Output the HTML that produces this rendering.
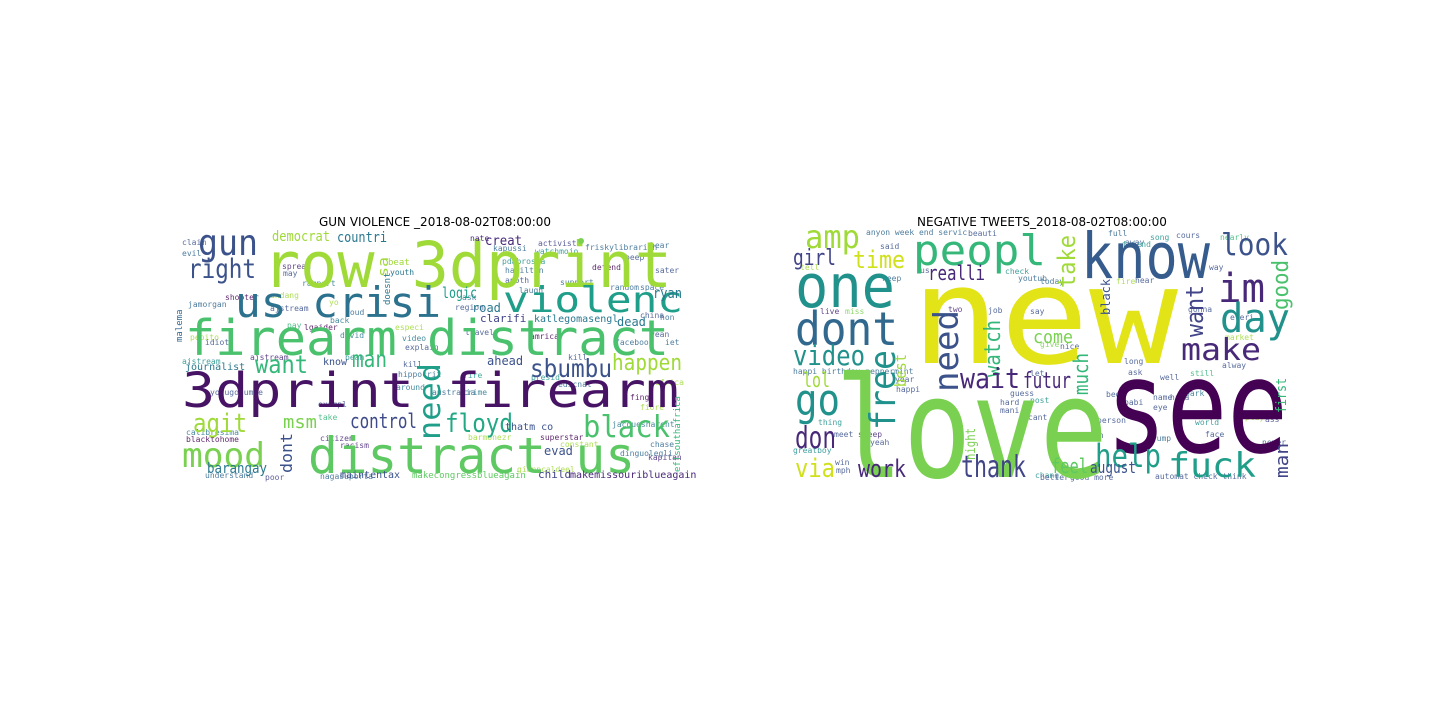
<!DOCTYPE html>
<html><head><meta charset="utf-8"><style>
body{margin:0;background:#fff;width:1440px;height:720px;overflow:hidden}
svg{display:block}
text{font-family:"DejaVu Sans Mono","Liberation Mono",monospace}
.t{font-family:"DejaVu Sans","Liberation Sans",sans-serif;font-size:12px;fill:#000}
</style></head><body>
<svg width="1440" height="720" viewBox="0 0 1440 720">
<text class="t" x="435" y="226" text-anchor="middle">GUN VIOLENCE _2018-08-02T08:00:00</text>
<text class="t" x="1042" y="226" text-anchor="middle">NEGATIVE TWEETS_2018-08-02T08:00:00</text>

<g>
<g font-size="8" opacity="0.85">
<text x="182" y="245" fill="#3b528b">claim</text><text x="182" y="256" fill="#31688e">evil</text><text x="225" y="300" fill="#440154">shooter</text>
<text x="188" y="307" fill="#31688e">jamorgan</text><text x="190" y="340" fill="#a0da39">pepito</text><text x="182" y="364" fill="#21918c">ajstream</text>
<text x="205" y="345" fill="#3b528b">idiot</text><text x="186" y="435" fill="#2a788e">calibresima</text><text x="186" y="442" fill="#440154">blacktohome</text>
<text x="205" y="478" fill="#31688e">understand</text><text x="265" y="480" fill="#414487">poor</text><text x="320" y="479" fill="#31688e">nagasuporta</text>
<text x="270" y="311" fill="#3b528b">ajstream</text><text x="270" y="298" fill="#a0da39">andang</text><text x="282" y="269" fill="#482878">spread</text>
<text x="283" y="276" fill="#3b528b">may</text><text x="302" y="286" fill="#2a788e">ramport</text><text x="287" y="328" fill="#35b779">pay</text>
<text x="304" y="330" fill="#440154">lgaider</text><text x="329" y="305" fill="#a0da39">yo</text><text x="330" y="323" fill="#2a788e">back</text>
<text x="340" y="338" fill="#2a788e">david</text><text x="345" y="315" fill="#31688e">loud</text><text x="395" y="330" fill="#a0da39">especi</text>
<text x="402" y="341" fill="#2a788e">video</text><text x="405" y="350" fill="#3b528b">explain</text><text x="403" y="367" fill="#3b528b">kill</text>
<text x="318" y="407" fill="#3b528b">exampl</text><text x="318" y="420" fill="#35b779">take</text><text x="320" y="441" fill="#482878">citizen</text>
<text x="340" y="448" fill="#482878">racism</text><text x="398" y="377" fill="#31688e">hippocrit</text><text x="396" y="390" fill="#2a788e">around</text>
<text x="432" y="395" fill="#31688e">australia</text><text x="463" y="395" fill="#2a788e">crime</text><text x="463" y="378" fill="#1f9e89">fire</text>
<text x="465" y="335" fill="#3b528b">travel</text><text x="468" y="440" fill="#a0da39">barmonezr</text><text x="540" y="440" fill="#440154">superstar</text>
<text x="560" y="447" fill="#a0da39">constant</text><text x="517" y="472" fill="#a0da39">gianncaldeel</text><text x="455" y="310" fill="#3b528b">region</text>
<text x="462" y="300" fill="#31688e">ask</text><text x="493" y="251" fill="#31688e">kapussi</text><text x="502" y="264" fill="#21918c">pdabrosca</text>
<text x="505" y="273" fill="#31688e">hamilton</text><text x="505" y="283" fill="#3b528b">anoth</text><text x="519" y="293" fill="#31688e">laugh</text>
<text x="530" y="339" fill="#440154">amrica</text><text x="531" y="380" fill="#21918c">presid</text><text x="558" y="387" fill="#31688e">edicnat</text>
<text x="568" y="360" fill="#3b528b">kill</text><text x="538" y="246" fill="#414487">activist</text><text x="535" y="254" fill="#21918c">watchmojo</text>
<text x="585" y="250" fill="#31688e">friskylibrarian</text><text x="625" y="260" fill="#3b528b">beep</text><text x="650" y="248" fill="#31688e">bear</text>
<text x="655" y="273" fill="#3b528b">sater</text><text x="640" y="290" fill="#31688e">space</text><text x="640" y="318" fill="#3b528b">china</text>
<text x="660" y="320" fill="#31688e">hon</text><text x="660" y="320" fill="#31688e"></text><text x="650" y="337" fill="#3b528b">yean</text>
<text x="665" y="345" fill="#31688e">iet</text><text x="615" y="345" fill="#31688e">facebook</text><text x="655" y="385" fill="#a0da39">africa</text>
<text x="640" y="410" fill="#a0da39">fiore</text><text x="630" y="400" fill="#440154">fing</text><text x="650" y="447" fill="#31688e">chase</text>
<text x="648" y="460" fill="#482878">kapitan</text><text x="612" y="427" fill="#2a788e">jacquesnarent</text><text x="620" y="456" fill="#31688e">dinguolegli</text>
<text x="592" y="270" fill="#440154">defend</text><text x="560" y="285" fill="#31688e">support</text><text x="610" y="290" fill="#31688e">random</text>
<text x="345" y="360" fill="#21918c">bean</text><text x="250" y="360" fill="#482878">ajstream</text><text x="210" y="395" fill="#3b528b">yo ugo umue</text>
</g>
<text x="263" y="287" font-size="63" fill="#a0da39" textLength="409" lengthAdjust="spacingAndGlyphs">row 3dprint</text>
<text x="235" y="317" font-size="42" fill="#2c728e" textLength="206" lengthAdjust="spacingAndGlyphs">us crisi</text>
<text x="503" y="312" font-size="36" fill="#1f9e89" textLength="180" lengthAdjust="spacingAndGlyphs">violenc</text>
<text x="185" y="355" font-size="49" fill="#4ac16d" textLength="484" lengthAdjust="spacingAndGlyphs">firearm distract</text>
<text x="182" y="407" font-size="48" fill="#471365" textLength="497" lengthAdjust="spacingAndGlyphs">3dprint firearm</text>
<text x="308" y="473" font-size="50" fill="#5ec962" textLength="327" lengthAdjust="spacingAndGlyphs">distract us</text>
<text x="198" y="255" font-size="36" fill="#3b528b" textLength="60" lengthAdjust="spacingAndGlyphs">gun</text>
<text x="188" y="278" font-size="27" fill="#3b528b" textLength="68" lengthAdjust="spacingAndGlyphs">right</text>
<text x="182" y="467" font-size="34" fill="#7ad151" textLength="83" lengthAdjust="spacingAndGlyphs">mood</text>
<text x="193" y="432" font-size="26" fill="#a0da39" textLength="54" lengthAdjust="spacingAndGlyphs">agit</text>
<text x="255" y="373" font-size="25" fill="#35b779" textLength="53" lengthAdjust="spacingAndGlyphs">want</text>
<text x="352" y="367" font-size="23" fill="#35b779" textLength="35" lengthAdjust="spacingAndGlyphs">man</text>
<text transform="translate(440,440) rotate(-90)" font-size="30" fill="#1f9e89" textLength="77" lengthAdjust="spacingAndGlyphs">need</text>
<text x="530" y="377" font-size="25" fill="#3b528b" textLength="82" lengthAdjust="spacingAndGlyphs">sbumbu</text>
<text x="612" y="370" font-size="22" fill="#a0da39" textLength="70" lengthAdjust="spacingAndGlyphs">happen</text>
<text x="445" y="432" font-size="26" fill="#22a884" textLength="68" lengthAdjust="spacingAndGlyphs">floyd</text>
<text x="583" y="437" font-size="30" fill="#4ac16d" textLength="87" lengthAdjust="spacingAndGlyphs">black</text>
<text x="350" y="428" font-size="20" fill="#3e4a89" textLength="67" lengthAdjust="spacingAndGlyphs">control</text>
<text x="283" y="428" font-size="18" fill="#7ad151" textLength="34" lengthAdjust="spacingAndGlyphs">msm</text>
<text transform="translate(292,473) rotate(-90)" font-size="16" fill="#3b528b" textLength="40" lengthAdjust="spacingAndGlyphs">dont</text>
<text transform="translate(388,277) rotate(-90)" font-size="14" fill="#a0da39" textLength="20" lengthAdjust="spacingAndGlyphs">sa</text>
<text transform="translate(390,305) rotate(-90)" font-size="9" fill="#2a788e">doesnt</text>
<text x="207" y="473" font-size="14" fill="#2a788e" textLength="60" lengthAdjust="spacingAndGlyphs">barangay</text>
<text x="272" y="241" font-size="14" fill="#a0da39" textLength="58" lengthAdjust="spacingAndGlyphs">democrat</text>
<text x="337" y="242" font-size="14" fill="#2a788e" textLength="50" lengthAdjust="spacingAndGlyphs">countri</text>
<text x="485" y="245" font-size="13" fill="#482878" textLength="37" lengthAdjust="spacingAndGlyphs">creat</text>
<text x="442" y="298" font-size="15" fill="#1f9e89" textLength="35" lengthAdjust="spacingAndGlyphs">logic</text>
<text x="653" y="298" font-size="14" fill="#2a788e" textLength="29" lengthAdjust="spacingAndGlyphs">ryan</text>
<text x="472" y="312" font-size="12" fill="#2a788e">road</text>
<text x="480" y="322" font-size="11" fill="#414487">clarifi</text>
<text x="534" y="322" font-size="10" fill="#2a788e">katlegomasengl</text>
<text x="617" y="326" font-size="12" fill="#2a788e">dead</text>
<text x="185" y="370" font-size="10" fill="#2a788e">journalist</text>
<text x="487" y="365" font-size="12" fill="#3b528b">ahead</text>
<text x="544" y="455" font-size="12" fill="#3b528b">evad</text>
<text x="538" y="478" font-size="11" fill="#414487">child</text>
<text x="570" y="478" font-size="10" fill="#482878">makemissouriblueagain</text>
<text x="412" y="478" font-size="9" fill="#5ec962">makecongressblueagain</text>
<text x="382" y="478" font-size="10" fill="#3b528b">tax</text>
<text x="340" y="478" font-size="10" fill="#3b528b">mainten</text>
<text x="323" y="365" font-size="10" fill="#3b528b">know</text>
<text x="505" y="430" font-size="10" fill="#3b528b">thatm co</text>
<text x="388" y="265" font-size="9" fill="#a0da39">beat</text>
<text x="390" y="275" font-size="8" fill="#2a788e">youth</text>
<text x="470" y="241" font-size="8" fill="#482878">nate</text>
<circle cx="581" cy="241" r="3" fill="#7ad151"/>
<text transform="translate(680,472) rotate(-90)" font-size="9" fill="#35b779">effsouthafrica</text>
<text transform="translate(182,342) rotate(-90)" font-size="9" fill="#31688e">malema</text>
</g>

<g>
<g font-size="8" opacity="0.85">
<text x="866" y="235" fill="#31688e">anyon week end servic</text><text x="968" y="236" fill="#3b528b">beauti</text><text x="1108" y="236" fill="#31688e">full</text>
<text x="1125" y="245" fill="#3b528b">away</text><text x="1150" y="240" fill="#21918c">song</text><text x="1220" y="240" fill="#35b779">nearly</text>
<text x="882" y="281" fill="#31688e">keep</text><text x="1018" y="281" fill="#31688e">youtub</text><text x="1040" y="284" fill="#31688e">today</text>
<text x="1116" y="284" fill="#a0da39">fire</text><text x="1135" y="283" fill="#3b528b">hear</text><text x="988" y="313" fill="#3b528b">job</text>
<text x="948" y="312" fill="#482878">two</text><text x="820" y="314" fill="#482878">live</text><text x="845" y="314" fill="#7ad151">miss</text>
<text x="1030" y="314" fill="#3b528b">say</text><text x="1040" y="347" fill="#7ad151">give</text><text x="1060" y="349" fill="#3b528b">nice</text>
<text x="1124" y="364" fill="#3b528b">long</text><text x="1128" y="375" fill="#3b528b">ask</text><text x="1160" y="380" fill="#3b528b">well</text>
<text x="1190" y="376" fill="#35b779">still</text><text x="1185" y="396" fill="#2a788e">park</text><text x="1106" y="397" fill="#3b528b">bed</text>
<text x="1124" y="405" fill="#3b528b">babi</text><text x="1153" y="400" fill="#3b528b">name</text><text x="1170" y="400" fill="#3b528b">haha</text>
<text x="1153" y="410" fill="#3b528b">eye</text><text x="1097" y="423" fill="#3b528b">person</text><text x="1195" y="425" fill="#21918c">world</text>
<text x="1245" y="420" fill="#a0da39">play</text><text x="1265" y="422" fill="#414487">ass</text><text x="1205" y="437" fill="#3b528b">face</text>
<text x="1262" y="445" fill="#3b528b">never</text><text x="1065" y="438" fill="#3b528b">hey teen</text><text x="1147" y="441" fill="#31688e">trump</text>
<text x="1000" y="405" fill="#3b528b">hard</text><text x="1000" y="413" fill="#3b528b">mani</text><text x="1010" y="396" fill="#3b528b">guess</text>
<text x="1030" y="403" fill="#21918c">post</text><text x="1028" y="420" fill="#3b528b">cant</text><text x="818" y="425" fill="#21918c">thing</text>
<text x="834" y="437" fill="#3b528b">meet</text><text x="858" y="437" fill="#482878">sleep</text><text x="870" y="445" fill="#3b528b">yeah</text>
<text x="793" y="453" fill="#21918c">greatboy</text><text x="835" y="465" fill="#3b528b">win</text><text x="836" y="473" fill="#3b528b">mph</text>
<text x="895" y="382" fill="#3b528b">year</text><text x="896" y="392" fill="#3b528b">happi</text><text x="1030" y="376" fill="#3b528b">let</text>
<text x="1155" y="479" fill="#3b528b">automat check think</text><text x="1035" y="478" fill="#21918c">chang</text><text x="1025" y="479" fill="#3b528b"></text>
<text x="1040" y="480" fill="#3b528b">better</text><text x="1070" y="480" fill="#3b528b">good more</text><text x="920" y="273" fill="#3b528b">us</text>
<text x="1005" y="274" fill="#21918c">check</text><text x="880" y="249" fill="#3b528b">said</text><text x="800" y="270" fill="#a0da39">tell</text>
<text x="1209" y="270" fill="#3b528b">way</text><text x="1122" y="247" fill="#21918c">friend</text><text x="1176" y="238" fill="#3b528b">cours</text>
<text x="1230" y="320" fill="#3b528b">everi</text><text x="1225" y="340" fill="#a0da39">market</text><text x="1222" y="368" fill="#3b528b">alway</text>
<text x="793" y="374" fill="#31688e">happi birthday peppermint</text><text x="1188" y="312" fill="#3b528b">gonna</text>
</g>
<text x="911" y="363" font-size="135" fill="#e2e418" textLength="267" lengthAdjust="spacingAndGlyphs">new</text>
<text x="835" y="477" font-size="140" fill="#7ad151" textLength="273" lengthAdjust="spacingAndGlyphs">love</text>
<text x="1106" y="452" font-size="130" fill="#440154" textLength="182" lengthAdjust="spacingAndGlyphs">see</text>
<text x="1081" y="278" font-size="63" fill="#365c8d" textLength="129" lengthAdjust="spacingAndGlyphs">know</text>
<text x="795" y="307" font-size="60" fill="#21918c" textLength="100" lengthAdjust="spacingAndGlyphs">one</text>
<text x="795" y="345" font-size="46" fill="#31688e" textLength="103" lengthAdjust="spacingAndGlyphs">dont</text>
<text x="913" y="265" font-size="42" fill="#35b779" textLength="133" lengthAdjust="spacingAndGlyphs">peopl</text>
<text x="805" y="248" font-size="32" fill="#a0da39" textLength="55" lengthAdjust="spacingAndGlyphs">amp</text>
<text x="853" y="268" font-size="24" fill="#d0e11c" textLength="52" lengthAdjust="spacingAndGlyphs">time</text>
<text x="793" y="265" font-size="22" fill="#414487" textLength="43" lengthAdjust="spacingAndGlyphs">girl</text>
<text transform="translate(1075,288) rotate(-90)" font-size="24" fill="#a0da39" textLength="53" lengthAdjust="spacingAndGlyphs">take</text>
<text x="1221" y="255" font-size="30" fill="#3b528b" textLength="67" lengthAdjust="spacingAndGlyphs">look</text>
<text x="1218" y="302" font-size="40" fill="#482878" textLength="47" lengthAdjust="spacingAndGlyphs">im</text>
<text transform="translate(1288,310) rotate(-90)" font-size="22" fill="#4ac16d" textLength="50" lengthAdjust="spacingAndGlyphs">good</text>
<text x="1220" y="332" font-size="40" fill="#21918c" textLength="70" lengthAdjust="spacingAndGlyphs">day</text>
<text transform="translate(1203,337) rotate(-90)" font-size="24" fill="#414487" textLength="52" lengthAdjust="spacingAndGlyphs">want</text>
<text x="1181" y="360" font-size="30" fill="#482878" textLength="80" lengthAdjust="spacingAndGlyphs">make</text>
<text x="928" y="280" font-size="20" fill="#482878" textLength="57" lengthAdjust="spacingAndGlyphs">realli</text>
<text x="793" y="365" font-size="28" fill="#21918c" textLength="72" lengthAdjust="spacingAndGlyphs">video</text>
<text transform="translate(895,430) rotate(-90)" font-size="36" fill="#21918c" textLength="80" lengthAdjust="spacingAndGlyphs">free</text>
<text transform="translate(958,392) rotate(-90)" font-size="34" fill="#3b528b" textLength="82" lengthAdjust="spacingAndGlyphs">need</text>
<text transform="translate(1000,377) rotate(-90)" font-size="22" fill="#35b779" textLength="57" lengthAdjust="spacingAndGlyphs">watch</text>
<text x="960" y="388" font-size="28" fill="#482878" textLength="60" lengthAdjust="spacingAndGlyphs">wait</text>
<text x="1023" y="388" font-size="22" fill="#482878" textLength="48" lengthAdjust="spacingAndGlyphs">futur</text>
<text transform="translate(1088,395) rotate(-90)" font-size="20" fill="#35b779" textLength="42" lengthAdjust="spacingAndGlyphs">much</text>
<text transform="translate(906,387) rotate(-90)" font-size="16" fill="#a0da39" textLength="33" lengthAdjust="spacingAndGlyphs">best</text>
<text x="803" y="387" font-size="20" fill="#a0da39" textLength="27" lengthAdjust="spacingAndGlyphs">lol</text>
<text x="795" y="415" font-size="44" fill="#21918c" textLength="45" lengthAdjust="spacingAndGlyphs">go</text>
<text x="795" y="448" font-size="30" fill="#482878" textLength="41" lengthAdjust="spacingAndGlyphs">don</text>
<text x="795" y="477" font-size="26" fill="#d0e11c" textLength="40" lengthAdjust="spacingAndGlyphs">via</text>
<text x="858" y="477" font-size="24" fill="#482878" textLength="48" lengthAdjust="spacingAndGlyphs">work</text>
<text x="961" y="477" font-size="30" fill="#414487" textLength="65" lengthAdjust="spacingAndGlyphs">thank</text>
<text x="1095" y="467" font-size="32" fill="#1f9e89" textLength="66" lengthAdjust="spacingAndGlyphs">help</text>
<text x="1168" y="477" font-size="34" fill="#1f9e89" textLength="88" lengthAdjust="spacingAndGlyphs">fuck</text>
<text x="1051" y="473" font-size="20" fill="#5ec962" textLength="37" lengthAdjust="spacingAndGlyphs">feel</text>
<text x="1090" y="473" font-size="16" fill="#3b528b" textLength="46" lengthAdjust="spacingAndGlyphs">august</text>
<text x="1033" y="343" font-size="18" fill="#7ad151" textLength="40" lengthAdjust="spacingAndGlyphs">come</text>
<text transform="translate(1288,478) rotate(-90)" font-size="18" fill="#414487" textLength="35" lengthAdjust="spacingAndGlyphs">man</text>
<text transform="translate(1286,413) rotate(-90)" font-size="14" fill="#35b779" textLength="35" lengthAdjust="spacingAndGlyphs">first</text>
<text transform="translate(975,460) rotate(-90)" font-size="13" fill="#7ad151" textLength="32" lengthAdjust="spacingAndGlyphs">night</text>
<text transform="translate(1110,315) rotate(-90)" font-size="12" fill="#3b528b">black</text>
</g>
</svg>
</body></html>
